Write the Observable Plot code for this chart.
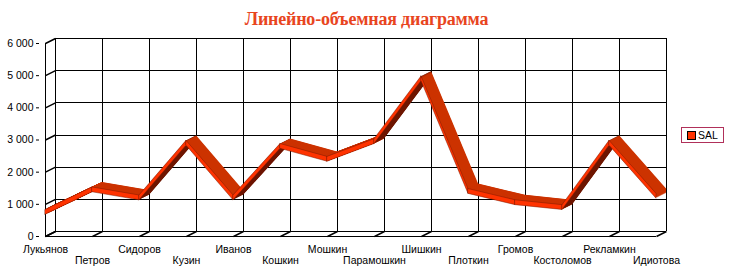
<!DOCTYPE html>
<html>
<head>
<meta charset="utf-8">
<script src="https://cdn.jsdelivr.net/npm/d3@7"></script>
<script src="https://cdn.jsdelivr.net/npm/@observablehq/plot@0.6"></script>
<style>
  body { margin: 0; background: #fff; }
  #wrap { position: relative; width: 733px; height: 274px; overflow: hidden; }
  #title { position: absolute; left: 0; top: 9px; width: 733px; text-align: center;
    font: bold 18px "Liberation Serif", "Times New Roman", serif; color: #E8451E; letter-spacing: -0.2px; }
  #legend { position: absolute; left: 681px; top: 127px; width: 41px; height: 14px;
    border: 1px solid #B0305A; font: 10.5px "Liberation Sans", Arial, sans-serif; }
  #legend .sw { position: absolute; left: 5px; top: 3px; width: 7px; height: 7px; background: #FF3300; border: 1px solid #000; }
  #legend .lb { position: absolute; left: 16px; top: 0px; line-height: 14px; }
</style>
</head>
<body>
<div id="wrap">
  <div id="chart"></div>
  <div id="title">Линейно-объемная диаграмма</div>
  <div id="legend"><div class="sw"></div><div class="lb">SAL</div></div>
</div>
<script>
const names = ["Лукьянов","Петров","Сидоров","Кузин","Иванов","Кошкин","Мошкин","Парамошкин","Шишкин","Плоткин","Громов","Костоломов","Рекламкин","Идиотова"];
const sal = [750, 1450, 1200, 2900, 1200, 2800, 2400, 2950, 4900, 1400, 1050, 900, 2900, 1250];
const yTicks = [0, 1000, 2000, 3000, 4000, 5000, 6000];
const seriesName = "SAL";

const W = 733, H = 274, mL = 39, mR = 71, mT = 43, mB = 38;
const DX = 10, DY = -5;      // depth offset of the back wall
const HALF = 75;             // half thickness of ribbon (value units)
const pxPerUnit = (H - mT - mB) / 6000;
const step = (W - mL - mR) / (names.length - 1);

// segments table built from the arrays
const segs = [];
for (let i = 0; i < names.length - 1; i++) {
  const steep = (sal[i + 1] - sal[i]) * pxPerUnit / step > -DY / DX;
  segs.push({seg: i, name: names[i], v: sal[i], steep});
  segs.push({seg: i, name: names[i + 1], v: sal[i + 1], steep});
}

const diag = {draw(ctx) { ctx.moveTo(0, 0); ctx.lineTo(DX, DY); }};
const fmt = d => d3.format(",")(d).replace(/,/g, " ");

const marks = [
  // back wall grid
  Plot.ruleY(yTicks, {y: d => d, x1: () => names[0], x2: () => names[names.length - 1], dx: DX, dy: DY, stroke: "#000", strokeWidth: 1, shapeRendering: "crispEdges"}),
  Plot.ruleX(names, {x: d => d, y1: 0, y2: 6000, dx: DX, dy: DY, stroke: "#000", strokeWidth: 1, shapeRendering: "crispEdges"}),
  // left wall & floor
  Plot.ruleX([names[0]], {x: d => d, y1: 0, y2: 6000, stroke: "#000", shapeRendering: "crispEdges"}),
  Plot.ruleY([0], {y: d => d, x1: () => names[0], x2: () => names[names.length - 1], stroke: "#000", shapeRendering: "crispEdges"}),
  Plot.dot(yTicks, {x: () => names[0], y: d => d, symbol: diag, stroke: "#000", fill: "none"}),
  Plot.dot(names, {x: d => d, y: () => 0, symbol: diag, stroke: "#000", fill: "none"}),
];

// ribbon: sweep from back to front
for (let t = DX; t >= 1; t -= 0.5) {
  marks.push(Plot.areaY(segs, {
    x: "name", y1: d => d.v - HALF, y2: d => d.v + HALF, z: "seg",
    fill: d => d.steep ? "#6E1600" : "#CC3300",
    dx: t, dy: t * DY / DX
  }));
}
// front face
marks.push(Plot.areaY(segs, {
  x: "name", y1: d => d.v - HALF, y2: d => d.v + HALF, z: "seg",
  fill: "#FF3300", stroke: "#7A1800", strokeWidth: 0.5
}));

// x labels (staggered)
marks.push(Plot.text(names.filter((d, i) => i % 2 === 0), {x: d => d, y: () => 0, dy: 13.5, fill: "#000"}));
marks.push(Plot.text(names.filter((d, i) => i % 2 === 1), {x: d => d, y: () => 0, dy: 24.5, fill: "#000"}));

const chart = Plot.plot({
  width: W, height: H,
  marginLeft: mL, marginRight: mR, marginTop: mT, marginBottom: mB,
  x: {type: "point", domain: names, padding: 0, axis: null},
  y: {domain: [0, 6000], ticks: yTicks, tickFormat: fmt, tickSize: 3, tickPadding: 3, label: null},
  style: {fontFamily: "'Liberation Sans', Arial, sans-serif", fontSize: "10.5px", background: "#fff", color: "#000", overflow: "visible"},
  marks
});
document.getElementById("chart").appendChild(chart);
</script>
</body>
</html>
